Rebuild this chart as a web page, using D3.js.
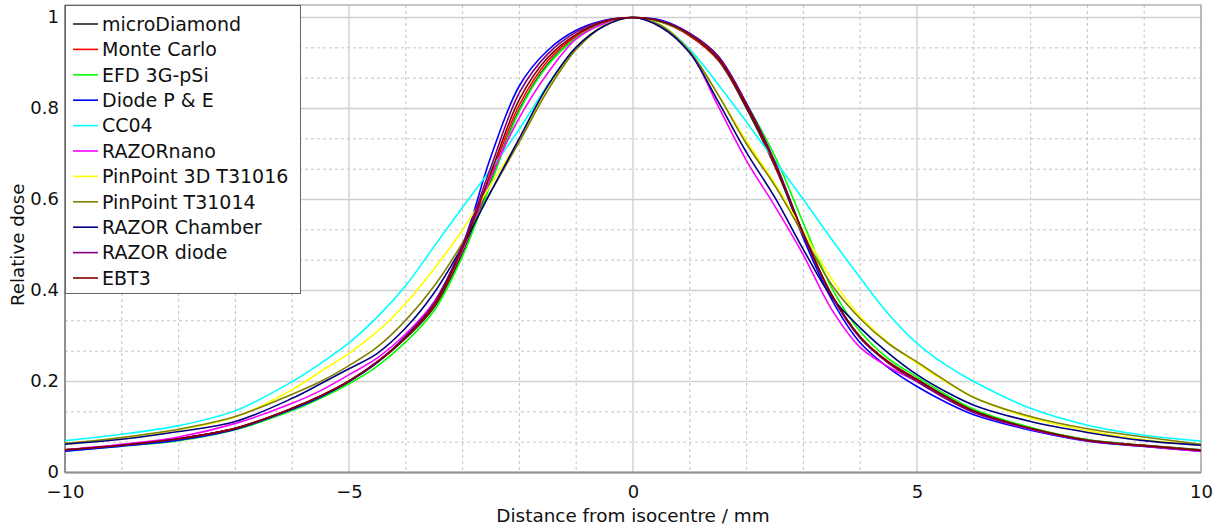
<!DOCTYPE html>
<html>
<head>
<meta charset="utf-8">
<script src="https://cdn.jsdelivr.net/npm/d3@7"></script>
<style>
  html, body { margin: 0; padding: 0; background: #fff; }
  svg { display: block; }
  text { font-family: "DejaVu Sans", sans-serif; fill: #111; }
</style>
</head>
<body>
<svg id="chart" width="1223" height="530"></svg>
<script>
// Sample positions (mm)
const xs = [-10,-9,-8,-7,-6,-5.5,-5,-4.5,-4,-3.5,-3,-2.5,-2,-1.5,-1,-0.5,0,
  0.5,1,1.5,2,2.5,3,3.5,4,4.5,5,5.5,6,7,8,9,10];

const seriesNames = ["microDiamond","Monte Carlo","EFD 3G-pSi","Diode P & E","CC04","RAZORnano",
  "PinPoint 3D T31016","PinPoint T31014","RAZOR Chamber","RAZOR diode","EBT3"];
const seriesColors = ["#222222","#ff0000","#00ff00","#0000ff","#00ffff","#ff00ff",
  "#ffff00","#808000","#000080","#800080","#800000"];

const microDiamond = [0.050,0.060,0.074,0.097,0.141,0.168,0.200,0.242,0.295,0.363,0.482,0.640,0.798,0.898,0.956,0.988,1,
  0.990,0.960,0.906,0.800,0.672,0.522,0.390,0.298,0.243,0.205,0.168,0.137,0.098,0.072,0.060,0.050];
const monteCarlo = [0.050,0.060,0.074,0.097,0.141,0.168,0.200,0.243,0.297,0.367,0.490,0.652,0.808,0.905,0.960,0.990,1,
  0.990,0.960,0.908,0.805,0.675,0.525,0.390,0.298,0.243,0.204,0.167,0.136,0.097,0.071,0.059,0.049];
const efd3G = [0.047,0.058,0.070,0.094,0.136,0.163,0.195,0.234,0.287,0.356,0.476,0.636,0.795,0.895,0.955,0.988,1,
  0.990,0.962,0.912,0.810,0.695,0.548,0.405,0.310,0.250,0.210,0.172,0.139,0.099,0.072,0.059,0.049];
const diodePE = [0.047,0.058,0.071,0.095,0.139,0.166,0.200,0.242,0.300,0.375,0.500,0.695,0.850,0.928,0.972,0.994,1,
  0.994,0.965,0.915,0.810,0.680,0.515,0.380,0.285,0.230,0.189,0.155,0.127,0.093,0.069,0.057,0.047];
const cc04 = [0.070,0.084,0.103,0.136,0.200,0.240,0.285,0.342,0.411,0.497,0.583,0.667,0.755,0.852,0.934,0.983,1,
  0.983,0.930,0.853,0.770,0.685,0.600,0.512,0.428,0.348,0.284,0.237,0.200,0.141,0.104,0.082,0.069];
const razorNano = [0.050,0.062,0.078,0.108,0.152,0.180,0.215,0.252,0.305,0.375,0.490,0.650,0.780,0.878,0.953,0.987,1,
  0.980,0.925,0.805,0.685,0.585,0.478,0.358,0.275,0.232,0.200,0.163,0.132,0.095,0.070,0.058,0.046];
const pinPoint3D = [0.064,0.076,0.094,0.122,0.182,0.222,0.262,0.310,0.372,0.448,0.533,0.633,0.733,0.842,0.935,0.983,1,
  0.983,0.925,0.830,0.728,0.635,0.530,0.425,0.343,0.285,0.240,0.200,0.165,0.120,0.092,0.072,0.062];
const pinPoint31014 = [0.064,0.077,0.095,0.123,0.172,0.200,0.235,0.276,0.335,0.410,0.505,0.618,0.727,0.840,0.930,0.982,1,
  0.982,0.925,0.830,0.722,0.630,0.522,0.412,0.338,0.283,0.243,0.202,0.165,0.123,0.096,0.078,0.062];
const razorChamber = [0.062,0.073,0.090,0.112,0.163,0.195,0.228,0.262,0.318,0.395,0.498,0.618,0.735,0.850,0.935,0.982,1,
  0.978,0.922,0.815,0.703,0.604,0.490,0.385,0.318,0.262,0.215,0.178,0.148,0.112,0.088,0.070,0.060];
const razorDiode = [0.050,0.060,0.074,0.097,0.141,0.168,0.201,0.244,0.299,0.372,0.500,0.672,0.835,0.920,0.968,0.993,1,
  0.992,0.965,0.915,0.810,0.683,0.525,0.388,0.295,0.240,0.200,0.163,0.132,0.096,0.070,0.058,0.048];
const ebt3 = [0.050,0.060,0.074,0.097,0.141,0.168,0.201,0.243,0.297,0.369,0.494,0.660,0.820,0.912,0.963,0.991,1,
  0.991,0.962,0.910,0.805,0.677,0.525,0.390,0.298,0.242,0.204,0.167,0.135,0.097,0.071,0.059,0.049];

const seriesValues = [microDiamond, monteCarlo, efd3G, diodePE, cc04, razorNano,
  pinPoint3D, pinPoint31014, razorChamber, razorDiode, ebt3];

const xTicks = [-10,-5,0,5,10];
const yTicks = [0,0.2,0.4,0.6,0.8,1];

const xLabel = "Distance from isocentre / mm";
const yLabel = "Relative dose";

// Layout
const svg = d3.select("#chart");
const pL = 65, pR = 1201, pT = 5, pB = 472.5;
const x = d3.scaleLinear().domain([-10, 10]).range([pL, pR]);
const y = d3.scaleLinear().domain([0, 1.0275]).range([pB, pT]);

// Minor grid
const xMinor = d3.range(-10, 10.001, 1).filter(v => !xTicks.includes(v));
const yMinor = d3.range(0, 1.03, 0.2/3).filter(v => !yTicks.some(t => Math.abs(t - v) < 1e-6));

const grid = svg.append("g");
grid.selectAll(".vminor").data(xMinor).join("line")
  .attr("x1", d => x(d)).attr("x2", d => x(d)).attr("y1", pT).attr("y2", pB)
  .attr("stroke", "#c4c4c4").attr("stroke-dasharray", "3,3").attr("stroke-width", 1);
grid.selectAll(".hminor").data(yMinor).join("line")
  .attr("y1", d => y(d)).attr("y2", d => y(d)).attr("x1", pL).attr("x2", pR)
  .attr("stroke", "#c4c4c4").attr("stroke-dasharray", "3,3").attr("stroke-width", 1);
grid.selectAll(".vmajor").data(xTicks).join("line")
  .attr("x1", d => x(d)).attr("x2", d => x(d)).attr("y1", pT).attr("y2", pB)
  .attr("stroke", "#c8c8c8").attr("stroke-width", 1.2);
grid.selectAll(".hmajor").data(yTicks).join("line")
  .attr("y1", d => y(d)).attr("y2", d => y(d)).attr("x1", pL).attr("x2", pR)
  .attr("stroke", "#d0d0d0").attr("stroke-width", 1.5);

// frame
svg.append("rect").attr("x", pL).attr("y", pT).attr("width", pR - pL).attr("height", pB - pT)
  .attr("fill", "none").attr("stroke", "#a0a0a0").attr("stroke-width", 1.2);
svg.append("line").attr("x1", pL).attr("x2", pL).attr("y1", pT).attr("y2", pB)
  .attr("stroke", "#909090").attr("stroke-width", 2);
svg.append("line").attr("x1", pL).attr("x2", pR).attr("y1", pB).attr("y2", pB)
  .attr("stroke", "#909090").attr("stroke-width", 2);

// Axes (labels via d3 axes, no domain / tick lines)
const fmtX = d => d < 0 ? "\u2212" + Math.abs(d) : String(d);
const xAxis = svg.append("g").attr("transform", `translate(0,${pB})`)
  .call(d3.axisBottom(x).tickValues(xTicks).tickFormat(fmtX).tickSize(0).tickPadding(13));
xAxis.select(".domain").remove();
xAxis.selectAll("text").attr("font-size", 18).attr("font-family", "DejaVu Sans").attr("fill", "#111");

const yAxis = svg.append("g").attr("transform", `translate(${pL},0)`)
  .call(d3.axisLeft(y).tickValues(yTicks).tickFormat(d => String(+d.toFixed(1))).tickSize(0).tickPadding(6));
yAxis.select(".domain").remove();
yAxis.selectAll("text").attr("font-size", 18).attr("font-family", "DejaVu Sans").attr("fill", "#111")
  .attr("dy", "0.25em");

svg.append("text").attr("x", (pL + pR) / 2).attr("y", 522).attr("text-anchor", "middle")
  .attr("font-size", 18.4).text(xLabel);
svg.append("text").attr("transform", `translate(24,${(pT + pB) / 2 + 6}) rotate(-90)`)
  .attr("text-anchor", "middle").attr("font-size", 18.2).text(yLabel);

// Lines
svg.append("clipPath").attr("id", "clip").append("rect")
  .attr("x", pL).attr("y", pT).attr("width", pR - pL).attr("height", pB - pT);
const line = d3.line().x((d, i) => x(xs[i])).y(d => y(d)).curve(d3.curveCatmullRom.alpha(0.5));
const plot = svg.append("g").attr("clip-path", "url(#clip)");
seriesValues.forEach((vals, k) => {
  plot.append("path").attr("d", line(vals)).attr("fill", "none")
    .attr("stroke", seriesColors[k]).attr("stroke-width", 1.6);
});

// Legend
const lg = svg.append("g");
const lgX = pL, lgY = pT, lgW = 235, lgH = 288, rowH = 25.4;
lg.append("rect").attr("x", lgX + 0.5).attr("y", lgY + 0.5).attr("width", lgW).attr("height", lgH)
  .attr("fill", "#fff").attr("stroke", "#666").attr("stroke-width", 1);
seriesNames.forEach((name, k) => {
  const cy = lgY + 19 + k * rowH;
  lg.append("line").attr("x1", lgX + 8).attr("x2", lgX + 33).attr("y1", cy).attr("y2", cy)
    .attr("stroke", seriesColors[k]).attr("stroke-width", 1.6);
  lg.append("text").attr("x", lgX + 37).attr("y", cy).attr("dy", "0.36em")
    .attr("font-size", 19).text(name);
});
</script>
</body>
</html>
